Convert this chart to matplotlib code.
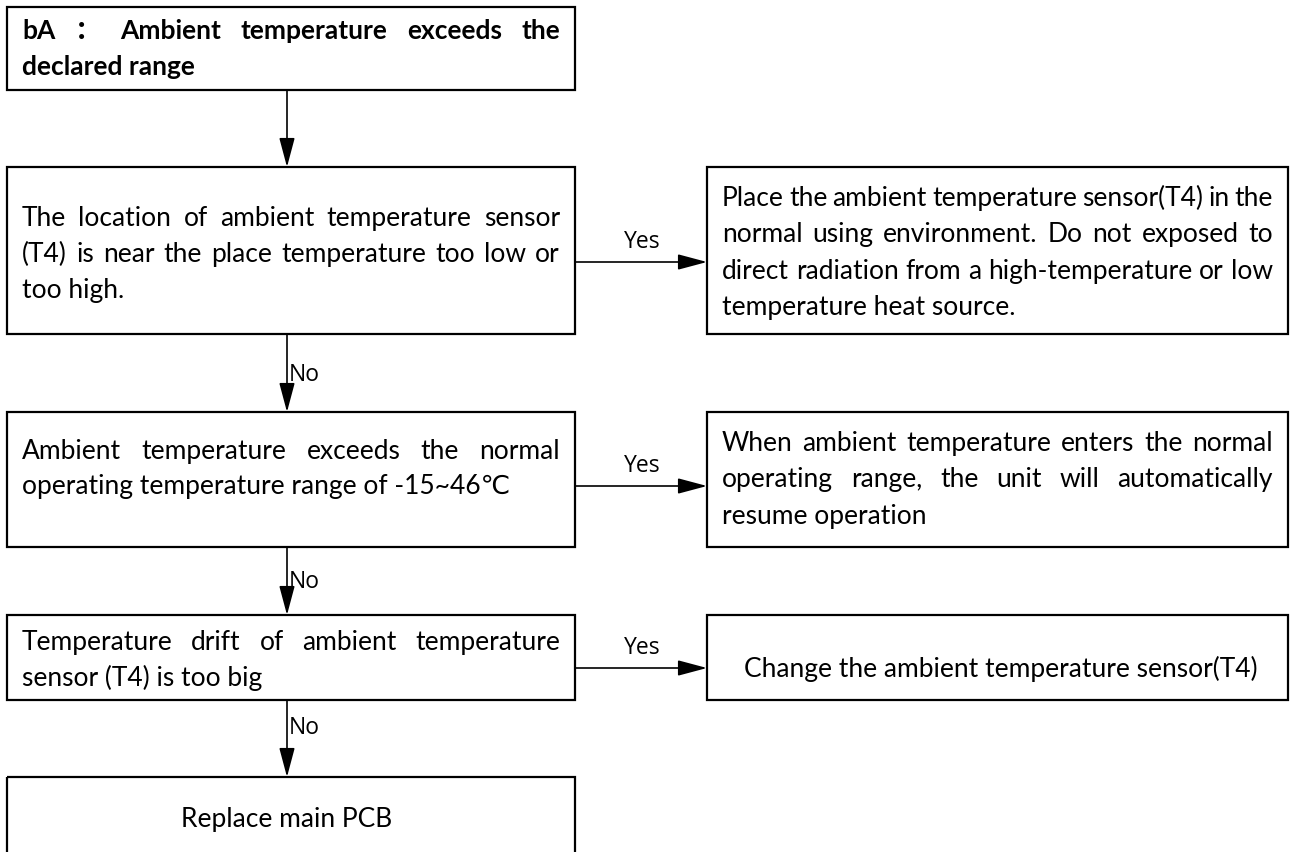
import matplotlib
matplotlib.use('Agg')
import matplotlib.pyplot as plt
from matplotlib.patches import Rectangle

# Flowchart text
title_lines = ["bA ： Ambient temperature exceeds the", "declared range"]
check_lines = [
    ["The location of ambient temperature sensor",
     "(T4) is near the place temperature too low or",
     "too high."],
    ["Ambient temperature exceeds the normal",
     "operating temperature range of -15~46℃"],
    ["Temperature drift of ambient temperature",
     "sensor (T4) is too big"],
]
action_lines = [
    ["Place the ambient temperature sensor(T4) in the",
     "normal using environment. Do not exposed to",
     "direct radiation from a high-temperature or low",
     "temperature heat source."],
    ["When ambient temperature enters the normal",
     "operating range, the unit will automatically",
     "resume operation"],
    ["Change the ambient temperature sensor(T4)"],
]
final_text = "Replace main PCB"
yes_label = "Yes"
no_label = "No"

# layout (pixels)
LX0, LX1 = 7, 575
RX0, RX1 = 707, 1288
AX = 287
title_box = (7, 90)
check_boxes = [(167, 334), (412, 547), (615, 700)]
final_top = 777
title_ys = [29, 65]
check_ys = [[216, 252, 288], [449, 484], [640, 675]]
action_ys = [[196, 232, 269, 305], [441, 477, 514], [666]]
yes_ys = [262, 486, 668]
no_ys = [375, 582, 728]

fig = plt.figure(figsize=(12.9, 8.52), dpi=100)
ax = fig.add_axes([0, 0, 1, 1])
ax.set_xlim(0, 1290)
ax.set_ylim(852, 0)
ax.axis('off')

body = dict(family=['Lato', 'DejaVu Sans', 'Noto Sans CJK SC'], fontsize=19, color='black')
label = dict(family=['Open Sans', 'DejaVu Sans'], fontsize=16.5, color='black')
r = fig.canvas.get_renderer()


def box(x0, x1, y0, y1):
    ax.add_patch(Rectangle((x0, y0), x1 - x0, y1 - y0, fill=False, lw=1.6,
                           ec='black', clip_on=True))


def justified(lines, x0, x1, ys, **kw):
    for i, (line, y) in enumerate(zip(lines, ys)):
        if i == len(lines) - 1:
            ax.text(x0, y, line, ha='left', va='center_baseline', **kw)
            continue
        words = line.split()
        texts = [ax.text(0, y, w, ha='left', va='center_baseline', **kw) for w in words]
        widths = [t.get_window_extent(r).width for t in texts]
        gap = (x1 - x0 - sum(widths)) / (len(words) - 1)
        x = x0
        for t, w in zip(texts, widths):
            t.set_x(x)
            x += w + gap


def arrow(x0, y0, x1, y1):
    ax.annotate('', xy=(x1, y1), xytext=(x0, y0),
                arrowprops=dict(arrowstyle='-|>,head_length=0.6,head_width=0.16',
                                mutation_scale=30, lw=1.2, color='black',
                                shrinkA=0, shrinkB=0))


PAD = 15
# title
box(LX0, LX1, *title_box)
justified(title_lines, LX0 + PAD, LX1 - PAD, title_ys, fontweight='bold', **body)
arrow(AX, title_box[1], AX, check_boxes[0][0])

for i, (y0, y1) in enumerate(check_boxes):
    box(LX0, LX1, y0, y1)
    box(RX0, RX1, y0, y1)
    justified(check_lines[i], LX0 + PAD, LX1 - PAD, check_ys[i], **body)
    if len(action_lines[i]) == 1:
        ax.text((RX0 + RX1) / 2 + 3, action_ys[i][0], action_lines[i][0],
                ha='center', va='center_baseline', **body)
    else:
        justified(action_lines[i], RX0 + PAD, RX1 - PAD, action_ys[i], **body)
    # yes branch
    arrow(LX1, yes_ys[i], RX0, yes_ys[i])
    ax.text((LX1 + RX0) / 2 + 1, yes_ys[i] - 20, yes_label, ha='center',
            va='center', **label)
    # no branch
    nxt = check_boxes[i + 1][0] if i + 1 < len(check_boxes) else final_top
    arrow(AX, y1, AX, nxt)
    ax.text(AX + 2, no_ys[i], no_label, ha='left', va='center', **label)

box(LX0, LX1, final_top, final_top + 120)
ax.text((LX0 + LX1) / 2 - 4, 817, final_text, ha='center', va='center_baseline', **body)

fig.savefig('out.png', dpi=100)
